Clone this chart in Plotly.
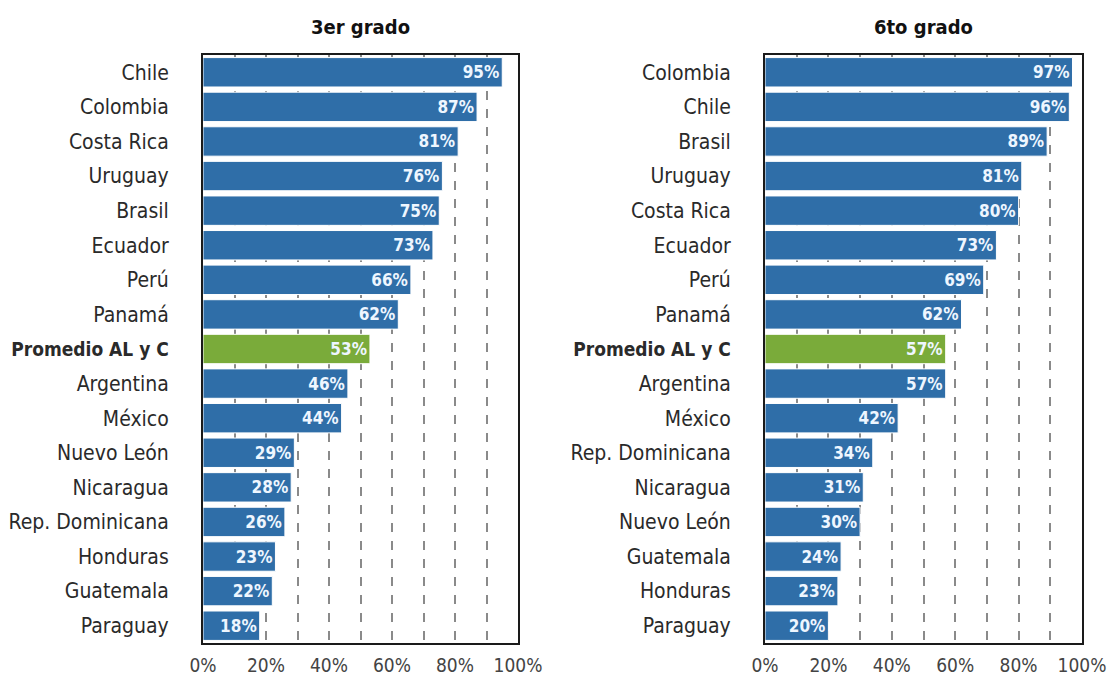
import plotly.graph_objects as go
from plotly.subplots import make_subplots

# 3er grado
paises_3 = ["Chile", "Colombia", "Costa Rica", "Uruguay", "Brasil", "Ecuador", "Perú", "Panamá",
            "Promedio AL y C", "Argentina", "México", "Nuevo León", "Nicaragua", "Rep. Dominicana",
            "Honduras", "Guatemala", "Paraguay"]
valores_3 = [95, 87, 81, 76, 75, 73, 66, 62, 53, 46, 44, 29, 28, 26, 23, 22, 18]

# 6to grado
paises_6 = ["Colombia", "Chile", "Brasil", "Uruguay", "Costa Rica", "Ecuador", "Perú", "Panamá",
            "Promedio AL y C", "Argentina", "México", "Rep. Dominicana", "Nicaragua", "Nuevo León",
            "Guatemala", "Honduras", "Paraguay"]
valores_6 = [97, 96, 89, 81, 80, 73, 69, 62, 57, 57, 42, 34, 31, 30, 24, 23, 20]

titulos = ["3er grado", "6to grado"]
x_ticks = [0, 10, 20, 30, 40, 50, 60, 70, 80, 90, 100]

AZUL = "#2f6ea8"
VERDE = "#7aab3a"
PROMEDIO = "Promedio AL y C"
FONT = "DejaVu Sans Condensed, Arial Narrow, sans-serif"

# la pagina deja 8px de margen alrededor de la figura
W, H = 1107, 680
OFF = 8
# cajas de los paneles en pixeles de la pagina
cajas = [(203, 518), (765, 1082)]

fig = make_subplots(rows=1, cols=2)

for i, (paises, valores) in enumerate([(paises_3, valores_3), (paises_6, valores_6)]):
    col = i + 1
    colores = [VERDE if p == PROMEDIO else AZUL for p in paises]
    fig.add_trace(go.Bar(
        x=valores, y=paises, orientation="h",
        marker=dict(color=colores, line=dict(color="white", width=1)),
        text=[f"{v}%" for v in valores],
        textposition="inside", insidetextanchor="end", textangle=0,
        textfont=dict(family=FONT, size=17, color="#eef6ff", weight="bold"),
        showlegend=False, hoverinfo="skip"
    ), row=1, col=col)

    ticktext = [f'<span style="font-size:19px"><b>{p}</b></span>' if p == PROMEDIO else p
                for p in paises]
    fig.update_yaxes(
        categoryorder="array", categoryarray=paises, autorange="reversed",
        tickvals=paises, ticktext=ticktext,
        tickfont=dict(family=FONT, size=21, color="#2a2a2a"),
        ticklabelstandoff=28, ticks="", automargin=False,
        showline=True, mirror=True, linecolor="#1a1a1a", linewidth=2,
        showgrid=False, domain=[0, 1],
        row=1, col=col
    )
    x0, x1 = cajas[i]
    fig.update_xaxes(
        range=[0, 100], tickvals=x_ticks,
        ticktext=[f"{t}%" if t % 20 == 0 else "" for t in x_ticks],
        tickfont=dict(family=FONT, size=19, color="#444444"),
        ticklabelstandoff=4, automargin=False,
        showgrid=True, gridcolor="#8a8a8a", griddash="dash", gridwidth=1.5,
        showline=True, mirror=True, linecolor="#1a1a1a", linewidth=2,
        zeroline=False, domain=[(x0 - OFF) / W, (x1 - OFF) / W],
        row=1, col=col
    )
    fig.add_annotation(
        text=f"<b>{titulos[i]}</b>", x=((x0 + x1) / 2 - OFF) / W, y=1,
        xref="paper", yref="paper", xanchor="center",
        yanchor="bottom", yshift=14, showarrow=False,
        font=dict(family=FONT, size=20, color="#111111")
    )

fig.update_layout(
    width=W, height=H,
    margin=dict(l=0, r=0, t=47, b=45),
    bargap=0.15,
    plot_bgcolor="white", paper_bgcolor="white",
    uniformtext=dict(mode=False)
)

fig.write_html("out.html")
